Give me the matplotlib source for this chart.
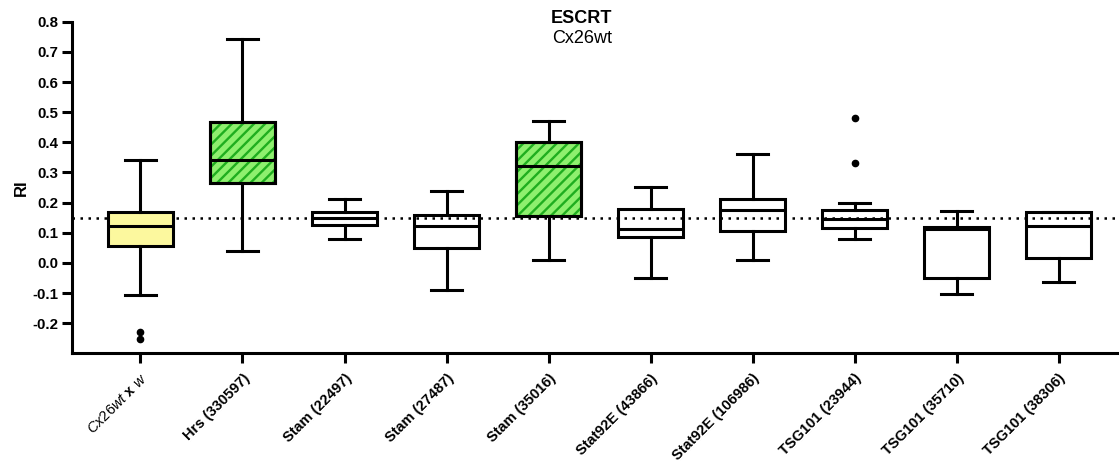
import matplotlib.pyplot as plt
from matplotlib.patches import PathPatch
import numpy as np

plt.rcParams['font.family'] = 'Liberation Sans'
plt.rcParams['mathtext.fontset'] = 'custom'
plt.rcParams['mathtext.rm'] = 'Liberation Sans'
plt.rcParams['mathtext.it'] = 'Liberation Sans:italic'
plt.rcParams['mathtext.bf'] = 'Liberation Sans:bold'
plt.rcParams['hatch.linewidth'] = 1.7

labels = [r'$\mathit{Cx26wt}$ $\mathbf{x}$ $\mathit{w}$', 'Hrs (330597)', 'Stam (22497)',
          'Stam (27487)', 'Stam (35016)', 'Stat92E (43866)', 'Stat92E (106986)',
          'TSG101 (23944)', 'TSG101 (35710)', 'TSG101 (38306)']
whis_lo = [-0.108, 0.041, 0.080, -0.091, 0.011, -0.049, 0.011, 0.080, -0.102, -0.062]
q1 = [0.057, 0.264, 0.125, 0.048, 0.154, 0.086, 0.105, 0.117, -0.051, 0.017]
median = [0.121, 0.341, 0.149, 0.121, 0.323, 0.113, 0.174, 0.147, 0.113, 0.121]
q3 = [0.169, 0.467, 0.169, 0.160, 0.401, 0.180, 0.213, 0.174, 0.118, 0.168]
whis_hi = [0.341, 0.743, 0.211, 0.240, 0.471, 0.252, 0.361, 0.200, 0.171, 0.168]
outliers = [[-0.230, -0.252], [], [], [], [], [], [], [0.481, 0.331], [], []]
baseline = 0.15

fills = ['#fcf89e', '#8ef06e', 'none', 'none', '#8ef06e',
         'none', 'none', 'none', 'none', 'none']
hatches = ['', '///', '', '', '///', '', '', '', '', '']
stripe = '#1fae1f'

stats = []
for i in range(len(labels)):
    stats.append(dict(med=median[i], q1=q1[i], q3=q3[i],
                      whislo=whis_lo[i], whishi=whis_hi[i], fliers=outliers[i]))

fig = plt.figure(figsize=(11.19, 4.63), dpi=100)
ax = fig.add_axes([0.0643, 0.2369, 0.9357, 0.7162])

lw = 2.2
ax.axhline(baseline, color='black', linestyle=(0, (1, 2.2)), lw=1.8, zorder=1)

pos = np.arange(len(labels))
bp = ax.bxp(stats, positions=pos, widths=0.64, patch_artist=True,
            capwidths=0.3,
            boxprops=dict(linewidth=lw, edgecolor='black'),
            medianprops=dict(linewidth=lw, color='black'),
            whiskerprops=dict(linewidth=lw, color='black'),
            capprops=dict(linewidth=lw, color='black'),
            flierprops=dict(marker='o', markersize=4.5, markerfacecolor='black',
                            markeredgecolor='black'),
            zorder=2)
for box, fc, h in zip(bp['boxes'], fills, hatches):
    box.set_facecolor(fc)
    if h:
        # green stripes on top of the fill, then the black outline again
        ax.add_patch(PathPatch(box.get_path(), transform=ax.transData,
                               facecolor='none', edgecolor=stripe, hatch=h,
                               lw=0, zorder=2.02))
        ax.add_patch(PathPatch(box.get_path(), transform=ax.transData,
                               facecolor='none', edgecolor='black',
                               lw=lw, zorder=2.04))

ax.set_xlim(-0.672, 9.593)
ax.set_ylim(-0.3, 0.8)
ax.set_yticks(np.arange(-0.2, 0.81, 0.1))
ax.set_yticklabels(['%.1f' % v for v in np.arange(-0.2, 0.81, 0.1)])
ax.set_xticks(pos)
ax.set_xticklabels(labels, rotation=45, ha='right', rotation_mode='anchor')

for sp in ['top', 'right']:
    ax.spines[sp].set_visible(False)
for sp in ['left', 'bottom']:
    ax.spines[sp].set_linewidth(lw)
ax.tick_params(axis='both', width=lw, length=7, labelsize=10.8, pad=3)
ax.tick_params(axis='x', labelsize=10.5, pad=6)
for t in ax.get_xticklabels() + ax.get_yticklabels():
    t.set_fontweight('bold')

ax.set_ylabel('RI', fontsize=12, fontweight='bold', labelpad=2)

fig.text(0.52, 1 - 22.7 / 463, 'ESCRT', ha='center', va='baseline', fontsize=13, fontweight='bold')
fig.text(0.52, 1 - 42.7 / 463, 'Cx26wt', ha='center', va='baseline', fontsize=13)

fig.savefig('out.png', dpi=100)
